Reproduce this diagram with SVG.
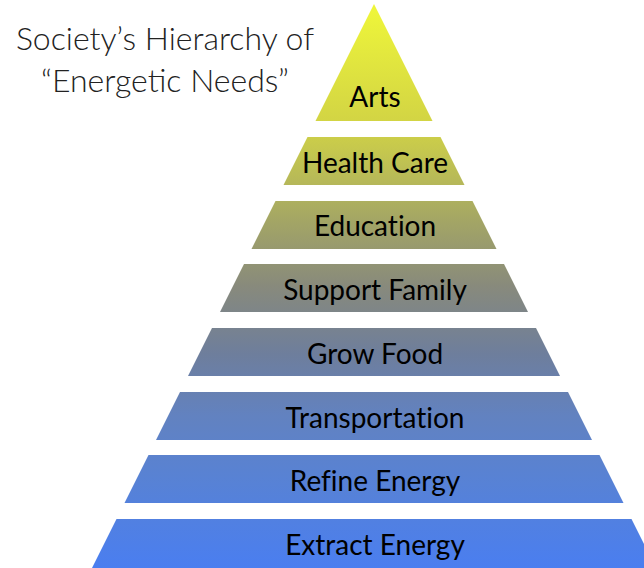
<svg xmlns="http://www.w3.org/2000/svg" width="644" height="568" viewBox="0 0 644 568">
<defs>
<linearGradient id="pg" gradientUnits="userSpaceOnUse" x1="0" y1="4" x2="0" y2="568">
<stop offset="0.01" stop-color="#eef53a"/>
<stop offset="0.21" stop-color="#d2d444"/>
<stop offset="0.28" stop-color="#c0c252"/>
<stop offset="0.39" stop-color="#a2a466"/>
<stop offset="0.50" stop-color="#888a7c"/>
<stop offset="0.62" stop-color="#6e7e9c"/>
<stop offset="0.73" stop-color="#6282c0"/>
<stop offset="0.84" stop-color="#5882d4"/>
<stop offset="1" stop-color="#4a7ef0"/>
</linearGradient>
</defs>
<style>
.layer{fill:url(#pg);}
.lbl{font-family:Lato,"Liberation Sans",sans-serif;font-size:28px;fill:#000;text-anchor:middle;font-variant-ligatures:none;}
.title{font-family:Lato,"Liberation Sans",sans-serif;font-weight:300;font-size:32px;fill:#222;text-anchor:middle;}
</style>
<rect width="644" height="568" fill="#fff"/>
<g id="title">
<text class="title" x="165" y="50">Society’s Hierarchy of</text>
<text class="title" x="165" y="92">“Energetic Needs”</text>
</g>
<g id="arts"><polygon class="layer" points="374,4 432.5,121 315.5,121"/><text class="lbl" x="375" y="107">Arts</text></g>
<g id="health"><polygon class="layer" points="307.5,137 440.5,137 464.5,185 283.5,185"/><text class="lbl" x="375" y="173">Health Care</text></g>
<g id="education"><polygon class="layer" points="275.5,201 472.5,201 496.5,249 251.5,249"/><text class="lbl" x="375" y="236">Education</text></g>
<g id="support"><polygon class="layer" points="244,264 504,264 528,312 220,312"/><text class="lbl" x="375" y="300">Support Family</text></g>
<g id="grow"><polygon class="layer" points="212,328 536,328 560,376 188,376"/><text class="lbl" x="375" y="364">Grow Food</text></g>
<g id="transport"><polygon class="layer" points="180,392 568,392 592,440 156,440"/><text class="lbl" x="375" y="428">Transportation</text></g>
<g id="refine"><polygon class="layer" points="148.5,455 599.5,455 623.5,503 124.5,503"/><text class="lbl" x="375" y="491">Refine Energy</text></g>
<g id="extract"><polygon class="layer" points="116.5,519 631.5,519 656,568 92,568"/><text class="lbl" x="375" y="555">Extract Energy</text></g>
<g id="connectors"/>
</svg>
